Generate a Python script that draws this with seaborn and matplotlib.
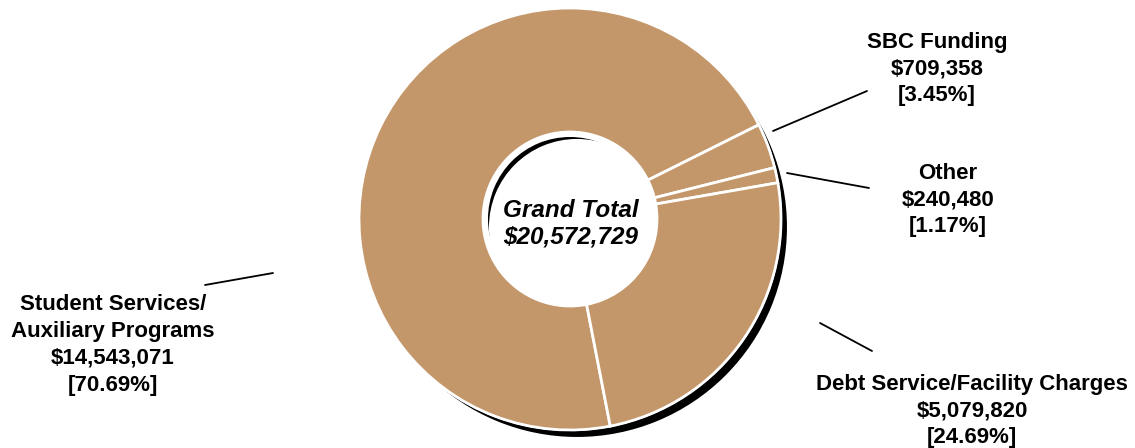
import matplotlib
matplotlib.use("Agg")
import matplotlib.pyplot as plt
import seaborn as sns

# Data
categories = ["Student Services/\nAuxiliary Programs", "SBC Funding", "Other", "Debt Service/Facility Charges"]
amounts = [14543071, 709358, 240480, 5079820]
percents = [70.69, 3.45, 1.17, 24.69]
grand_total = 20572729

# Layout (image pixels, y measured from top)
W, H = 1135, 448
center = (570, 219)
outer_r, inner_r = 211, 87
shadow_off = (7, 8)
label_pos = [(113, 345), (937, 69), (948, 200), (972, 411)]
leader_lines = [((273, 273), (205, 285)),
                ((773, 131), (867, 91)),
                ((787, 173), (869, 188)),
                ((820, 323), (872, 351))]
tan = "#C4976B"

sns.set_theme(style="white")
plt.rcParams["font.family"] = ["Liberation Sans", "DejaVu Sans"]


def py(y):
    # flip image y to data y
    return H - y


fig = plt.figure(figsize=(W / 100, H / 100), dpi=100)
ax = fig.add_axes([0, 0, 1, 1])

# Drop shadow ring
ax.pie([1], colors=["black"], radius=outer_r,
       center=(center[0] + shadow_off[0], py(center[1] + shadow_off[1])),
       wedgeprops=dict(width=outer_r - inner_r, edgecolor="white", linewidth=1.5),
       frame=True)

# White halo so the shadow sits a little apart from the ring
ax.pie([1], colors=["white"], radius=outer_r + 1,
       center=(center[0], py(center[1])),
       wedgeprops=dict(width=outer_r - inner_r + 6, linewidth=0),
       frame=True)

# Donut
ax.pie(amounts, colors=[tan] * len(amounts), radius=outer_r,
       center=(center[0], py(center[1])),
       startangle=281, counterclock=False,
       wedgeprops=dict(width=outer_r - inner_r, edgecolor="white", linewidth=2),
       frame=True)
ax.set_xlim(0, W)
ax.set_ylim(0, H)
ax.set_aspect("equal")
ax.axis("off")

# Labels
for name, amt, pct, (x, y) in zip(categories, amounts, percents, label_pos):
    ax.text(x, py(y), f"{name}\n${amt:,}\n[{pct:.2f}%]", ha="center", va="center",
            fontsize=16, fontweight="bold", color="black", linespacing=1.36)

for (x0, y0), (x1, y1) in leader_lines:
    ax.annotate("", xy=(x0, py(y0)), xytext=(x1, py(y1)),
                arrowprops=dict(arrowstyle="-", color="black", lw=1.3, shrinkA=0, shrinkB=0))

ax.text(center[0] + 1, py(center[1] + 5), f"Grand Total\n${grand_total:,}", ha="center", va="center",
        fontsize=17.5, fontweight="bold", fontstyle="italic", color="black", linespacing=1.22)

fig.savefig("out.png", dpi=100, facecolor="white")
plt.close(fig)
